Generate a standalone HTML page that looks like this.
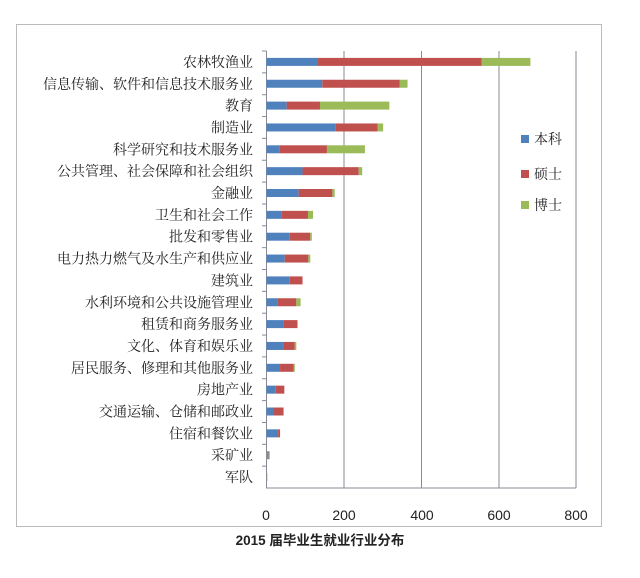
<!DOCTYPE html>
<html><head><meta charset="utf-8"><style>
html,body{margin:0;padding:0;background:#fff;width:640px;height:578px;overflow:hidden}
text{font-family:"Liberation Serif","Noto Serif CJK SC",serif;font-size:14px;fill:#222}
</style></head><body>
<svg width="640" height="578" xmlns="http://www.w3.org/2000/svg">
<rect x="16.5" y="24.5" width="585" height="502" fill="#fff" stroke="#bbb" stroke-width="1"/>
<g stroke="#8a8a96" stroke-width="1">
<line x1="344" y1="51" x2="344" y2="488"/>
<line x1="421.5" y1="51" x2="421.5" y2="488"/>
<line x1="499" y1="51" x2="499" y2="488"/>
<line x1="576" y1="51" x2="576" y2="488"/>
<line x1="266.5" y1="51" x2="266.5" y2="488"/>
<line x1="266" y1="488" x2="576" y2="488"/>
</g>
<g id="bars"></g>
<g id="labels" text-anchor="end"></g>
<g text-anchor="middle">
<text x="266" y="520" style="font-family:'Liberation Sans',sans-serif">0</text>
<text x="344" y="520" style="font-family:'Liberation Sans',sans-serif">200</text>
<text x="422" y="520" style="font-family:'Liberation Sans',sans-serif">400</text>
<text x="499" y="520" style="font-family:'Liberation Sans',sans-serif">600</text>
<text x="576" y="520" style="font-family:'Liberation Sans',sans-serif">800</text>
</g>
<rect x="521" y="135" width="8" height="8" fill="#4f81bd"/>
<text x="534" y="144">本科</text>
<rect x="521" y="170" width="8" height="8" fill="#c0504d"/>
<text x="534" y="179">硕士</text>
<rect x="521" y="201" width="8" height="8" fill="#9bbb59"/>
<text x="534" y="210">博士</text>
<text x="320" y="545" text-anchor="middle" style="font-family:'Liberation Sans','Noto Sans CJK SC',sans-serif;font-weight:bold;font-size:13.5px">2015 届毕业生就业行业分布</text>
</svg>
<script>
var d=[["农林牧渔业",133,555,681],["信息传输、软件和信息技术服务业",144,344,364],["教育",52,138,317],["制造业",179,287,301],["科学研究和技术服务业",33,156,254],["公共管理、社会保障和社会组织",93,238,247],["金融业",83,170,176],["卫生和社会工作",39,107,120],["批发和零售业",60,113,117],["电力热力燃气及水生产和供应业",47,108,113],["建筑业",60,93,93],["水利环境和公共设施管理业",28,77,88],["租赁和商务服务业",45,80,80],["文化、体育和娱乐业",45,73,77],["居民服务、修理和其他服务业",35,70,73],["房地产业",24,46,46],["交通运输、仓储和邮政业",18,44,44],["住宿和餐饮业",30,35,35],["采矿业",0,0,8],["军队",0,0,2]];
var ns="http://www.w3.org/2000/svg",b=document.getElementById("bars"),l=document.getElementById("labels");
var k=0.3875,x0=266.5;
function r(x1,x2,y,c){if(x2<=x1)return;var e=document.createElementNS(ns,"rect");e.setAttribute("x",x0+x1*k);e.setAttribute("width",(x2-x1)*k);e.setAttribute("y",y-4);e.setAttribute("height",8);e.setAttribute("fill",c);b.appendChild(e);}
d.forEach(function(v,i){var y=51+10.9+i*21.85;
r(0,v[1],y,"#4f81bd");r(v[1],v[2],y,"#c0504d");r(v[2],v[3],y,i>=18?"#8c8c8c":"#9bbb59");
var t=document.createElementNS(ns,"text");t.setAttribute("x",253);t.setAttribute("y",y+5);t.textContent=v[0];l.appendChild(t);
var tk=document.createElementNS(ns,"line");tk.setAttribute("x1",262);tk.setAttribute("x2",266.5);tk.setAttribute("y1",51+i*21.85);tk.setAttribute("y2",51+i*21.85);tk.setAttribute("stroke","#8a8a96");b.appendChild(tk);});
</script>
</body></html>
